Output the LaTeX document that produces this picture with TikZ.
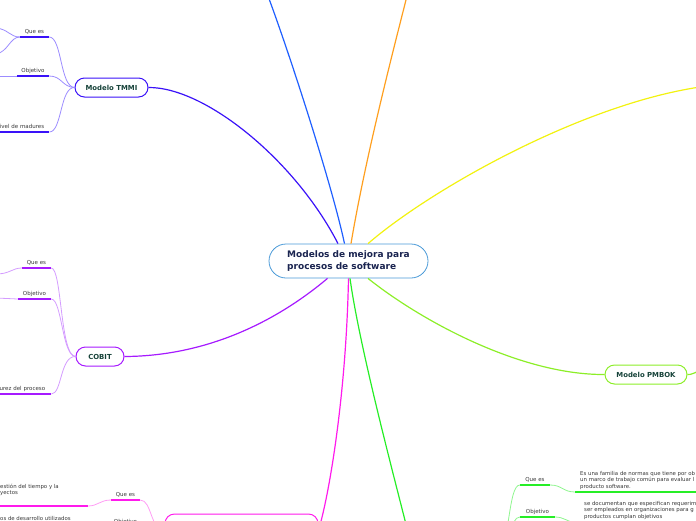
\documentclass[tikz,border=0pt]{standalone}
\usepackage{fontspec}
\setmainfont{DejaVu Sans}
\usetikzlibrary{positioning}
\definecolor{rootline}{HTML}{4A9AD8}
\definecolor{roottext}{HTML}{1A2450}
\definecolor{nodetext}{HTML}{17433A}
\definecolor{labeltext}{HTML}{383838}
\definecolor{tmmi}{HTML}{3A12F8}
\definecolor{tmmilight}{HTML}{9C8CFF}
\definecolor{blueline}{HTML}{1F5FFF}
\definecolor{orangeline}{HTML}{FF9F1F}
\definecolor{yellowline}{HTML}{F2F210}
\definecolor{cobit}{HTML}{A61AFF}
\definecolor{cobitlight}{HTML}{D49CFF}
\definecolor{pmbok}{HTML}{8CEE28}
\definecolor{magline}{HTML}{FF1AEC}
\definecolor{maglight}{HTML}{FF9CF4}
\definecolor{isoline}{HTML}{26EE26}
\definecolor{isolight}{HTML}{8EF58E}
\tikzset{
  rootbox/.style={draw=rootline, line width=0.8pt, fill=white, rounded corners=17pt,
    minimum width=159pt, minimum height=34pt, align=left,
    font=\fontsize{9}{12}\selectfont\bfseries, text=roottext},
  topicbox/.style={draw=#1, line width=1pt, fill=white, rounded corners=9.5pt,
    minimum height=19pt, inner xsep=0pt, font=\fontsize{6.9}{8}\selectfont\bfseries, text=nodetext},
  stemline/.style={line width=1.2pt, draw=#1},
  twigline/.style={line width=0.8pt, draw=#1},
  barline/.style={line width=1.6pt, draw=#1},
  lbl/.style={font=\fontsize{5.5}{6.5}\selectfont, text=labeltext, inner sep=0pt,
    text height=4pt, text depth=3.5pt},
  notetext/.style={font=\fontsize{5.4}{6.7}\selectfont, text=labeltext, inner sep=0pt, align=left}
}
\begin{document}
\begin{tikzpicture}[x=1pt, y=-1pt]
  \useasboundingbox (0,0) rectangle (696,520);
  \clip (0,0) rectangle (696,520);

  \coordinate (blueEnd) at (268,-4);
  \coordinate (orangeEnd) at (407,-4);
  \coordinate (yellowEnd) at (700,87);
  \coordinate (isoW) at (412,548);
  \coordinate (isoE) at (498,548);

  \node[rootbox] (root) at (348.5,261) {Modelos de mejora para\\procesos de software};
  \node[topicbox=tmmi, minimum width=73pt] (tmmiN) at (111.5,87.5) {Modelo TMMI};
  \node[topicbox=cobit, minimum width=48pt] (cobitN) at (100,356.5) {COBIT};
  \node[topicbox=pmbok, minimum width=82pt] (pmbokN) at (646,374.5) {Modelo PMBOK};
  \node[topicbox=magline, minimum width=153pt, minimum height=32pt] (magN) at (241.5,530) {};

  \draw[stemline=tmmi] ([xshift=-10.5pt]root.north) .. controls (295,160) and (205,87) .. (tmmiN.east);
  \draw[stemline=blueline] ([xshift=-4pt]root.north) .. controls (332,185) and (290,55) .. (blueEnd);
  \draw[stemline=orangeline] ([xshift=2.5pt]root.north) .. controls (365,160) and (392,55) .. (orangeEnd);
  \draw[stemline=yellowline] ([xshift=19.5pt]root.north) .. controls (430,190) and (580,105) .. (yellowEnd);
  \draw[stemline=cobit] ([xshift=-21pt]root.south) .. controls (290,310) and (220,356) .. (cobitN.east);
  \draw[stemline=pmbok] ([xshift=19.5pt]root.south) .. controls (420,320) and (520,375) .. (pmbokN.west);
  \draw[stemline=magline] (root.south) .. controls (346,400) and (328,500) .. (magN.east);
  \draw[stemline=isoline] ([xshift=1.5pt]root.south) .. controls (360,350) and (395,480) .. (isoW);
  \draw[stemline=pmbok] (pmbokN.east) .. controls (692,375) and (695,372) .. (700,371);

  % Modelo TMMI
  \coordinate (tQueA) at (-4,28);
  \coordinate (tQueB) at (-4,54);
  \coordinate (tObjA) at (-4,76);
  \node[lbl, minimum width=29pt, anchor=south] (tQue) at (34.5,37) {Que es};
  \node[lbl, minimum width=32pt, anchor=south] (tObj) at (33,76) {Objetivo};
  \node[lbl, text width=48pt, align=right, anchor=south west] (tNiv) at (-4,132) {ivel de madures};
  \draw[barline=tmmi] (tQue.south west) -- (tQue.south east);
  \draw[barline=tmmi] (tObj.south west) -- (tObj.south east);
  \draw[barline=tmmi] (tNiv.south west) -- ([xshift=5pt]tNiv.south east);
  \draw[twigline=tmmilight] (tQue.south east) .. controls (62,37) and (60,87) .. (tmmiN.west);
  \draw[twigline=tmmilight] (tObj.south east) .. controls (62,76) and (62,87) .. (tmmiN.west);
  \draw[twigline=tmmilight] ([xshift=5pt]tNiv.south east) .. controls (62,132) and (60,87) .. (tmmiN.west);
  \draw[twigline=tmmilight] (tQue.south west) .. controls (10,37) and (8,29) .. (tQueA);
  \draw[twigline=tmmilight] (tQue.south west) .. controls (10,37) and (8,52) .. (tQueB);
  \draw[twigline=tmmilight] (tObj.south west) -- (tObjA);

  % COBIT
  \coordinate (cQueA) at (-4,274);
  \coordinate (cObjA) at (-4,298);
  \node[lbl, minimum width=29pt, anchor=south] (cQue) at (36.5,268) {Que es};
  \node[lbl, minimum width=33pt, anchor=south] (cObj) at (34.5,299) {Objetivo};
  \node[lbl, text width=50pt, align=right, anchor=south west] (cMad) at (-5,394) {urez del proceso};
  \draw[barline=cobit] (cQue.south west) -- (cQue.south east);
  \draw[barline=cobit] (cObj.south west) -- (cObj.south east);
  \draw[barline=cobit] (cMad.south west) -- ([xshift=6pt]cMad.south east);
  \draw[twigline=cobitlight] (cQue.south east) .. controls (62,268) and (60,356) .. (cobitN.west);
  \draw[twigline=cobitlight] (cObj.south east) .. controls (62,299) and (62,356) .. (cobitN.west);
  \draw[twigline=cobitlight] ([xshift=6pt]cMad.south east) .. controls (62,394) and (60,356) .. (cobitN.west);
  \draw[twigline=cobitlight] (cQue.south west) .. controls (12,268) and (10,274) .. (cQueA);
  \draw[twigline=cobitlight] (cObj.south west) -- (cObjA);

  % rama magenta
  \coordinate (mGestL) at (-4,506);
  \coordinate (mGestR) at (88,506);
  \node[lbl, minimum width=29pt, anchor=south] (mQue) at (125.5,500) {Que es};
  \node[lbl, minimum width=29pt, anchor=south] (mObj) at (125.5,527) {Objetivo};
  \node[notetext, anchor=north west] (mGest) at (0,483.5) {estión del tiempo y la\\yectos};
  \node[notetext, anchor=north west] (mDes) at (0,515.8) {os de desarrollo utilizados};
  \draw[barline=magline] (mQue.south west) -- (mQue.south east);
  \draw[barline=magline] (mGestL) -- (mGestR);
  \draw[twigline=maglight] (mGestR) .. controls (98,506) and (100,500) .. (mQue.south west);
  \draw[twigline=maglight] (mQue.south east) .. controls (152,500) and (150,530) .. (magN.west);

  % rama verde
  \coordinate (gQueL) at (575,492);
  \coordinate (gQueR) at (700,492);
  \coordinate (gObjEnd) at (580,525);
  \node[lbl, minimum width=30pt, anchor=south] (gQue) at (535,485) {Que es};
  \node[lbl, minimum width=35pt, anchor=south] (gObj) at (537.5,517) {Objetivo};
  \node[notetext, anchor=north west] (gQueNote) at (580,470.8) {Es una familia de normas que tiene por ob\\un marco de trabajo común para evaluar l\\producto software.};
  \node[notetext, anchor=north west] (gObjNote) at (584,500.8) {se documentan que especifican requerim\\ser empleados en organizaciones para g\\productos cumplan objetivos};
  \draw[barline=isoline] (gQue.south west) -- (gQue.south east);
  \draw[barline=isoline] (gObj.south west) -- (gObj.south east);
  \draw[barline=isoline] (gQueL) -- (gQueR);
  \draw[twigline=isolight] (isoE) .. controls (510,548) and (508,485) .. (gQue.south west);
  \draw[twigline=isolight] (isoE) .. controls (510,548) and (510,517) .. (gObj.south west);
  \draw[twigline=isolight] (gQue.south east) .. controls (562,485) and (563,492) .. (gQueL);
  \draw[twigline=isolight] (gObj.south east) .. controls (564,517) and (568,522) .. (gObjEnd);
\end{tikzpicture}
\end{document}
